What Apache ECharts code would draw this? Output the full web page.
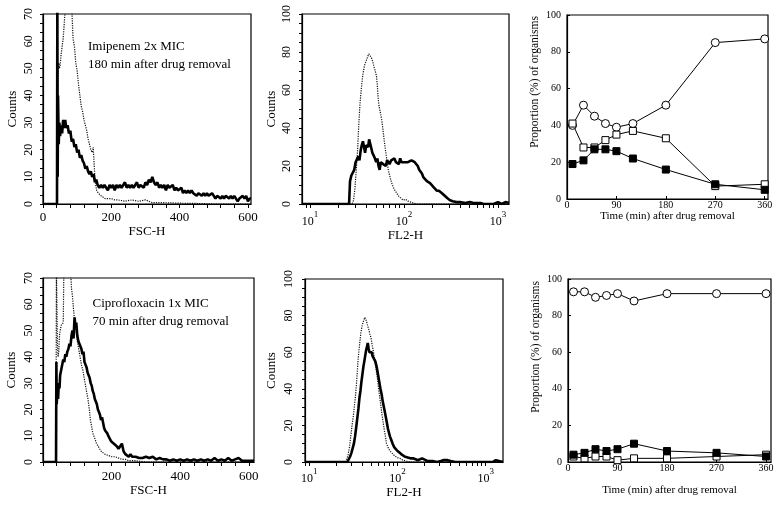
<!DOCTYPE html>
<html>
<head>
<meta charset="utf-8">
<script src="https://cdn.jsdelivr.net/npm/echarts@6/dist/echarts.min.js"></script>
<style>
html,body{margin:0;padding:0;background:#fff;}
#chart{width:780px;height:505px;}
</style>
</head>
<body>
<div id="chart"></div>
<script>
// ---------- Panel A: Imipenem 2x MIC, FSC-H histogram ----------
const imiFscSolidX = [0,41,42,43,44,46,48,50,53,56,59,62,65,68,72,76,80,84,88,92,96,100,104,108,112,116,120,124,128,132,136,140,144,148,152,156,160,165,170,175,180,185,190,195,200,205,210,215,220,225,230,235,240,245,250,255,260,265,270,275,280,285,290,295,300,305,310,315,320,325,330,335,340,345,350,355,360,365,370,375,380,385,390,395,400,405,410,415,420,425,430,435,440,445,450,455,460,465,470,475,480,485,490,495,500,505,510,515,520,525,530,535,540,545,550,555,560,565,570,575,580,585,590,595,600,605,609];
const imiFscSolidY = [0,0,75,10,40,22,30,25,29,26,31,28,31,28,29,26,27,23,24,21,22,19,20,17,18,16,15,13,14,12,11,12,10,11,8,9,7,6,7,6,7,6,5,7,6,7,5,7,6,7,6,6,8,6,7,6,7,6,7,8,6,7,7,6,8,7,9,8,10,8,7,8,6,7,6,7,5,7,6,6,7,5,6,5,5,6,4,5,4,5,4,5,4,4,3,4,4,3,4,3,4,3,3,4,3,2,3,3,2,3,2,3,3,2,3,2,3,2,1,2,2,3,2,3,1,2,2];
const imiFscDotX = [0,41,42,44,46,48,50,53,56,59,62,65,68,72,76,80,84,88,92,96,100,104,108,112,116,120,124,128,132,136,140,144,147,150,153,157,162,170,182,190,200,210,220,240,260,280,300,320,350,400,450,500,609];
const imiFscDotY = [0,0,30,45,52,50,51,55,58,61,66,72,75,74,72,76,73,61,58,52,49,44,40,36,34,31,29,27,24,22,20,19,21,14,8,5,4,3,2,2,2,1.5,1.5,1,1.5,1,1.5,0.5,0.5,0.3,0.2,0,0];

// ---------- Panel B: Imipenem 2x MIC, FL2-H histogram ----------
const imiFlSolidX = [8.2,26,26.6,27.5,28.5,29.5,30.5,31.5,32.5,33.5,34.5,35.5,36.5,37.5,38.5,39.5,40.5,41.5,42.5,43.5,44.5,46,47.5,49,50.5,52,53.5,55,56.5,58,60,62,64,66,68,70,73,76,79,82,85,88,91,94,97,100,105,110,115,120,125,130,136,140,145,150,155,161,168,175,182,189,197,205,213,223,235,248,262,275,290,309,330,360,394,450,500,550,600,650,700,800,900,1000,1050,1100,1200,1310];
const imiFlSolidY = [0,0,12,15,14,18,22,21,25,23,28,31,33,30,27,31,32,30,34,33,30,27,28,24,22,24,20,18,22,23,21,22,20,23,22,21,23,22,24,22,23,21,24,22,23,22,23,22,22,23,22,22,22,20,18,17,16,14,13,12,12,11,10,9,8,7,7,6,5,4,3,2,1.5,1,1,0.5,1,0.5,0.5,0.5,0,0,0,1,1,0,1,0.5];
const imiFlDotX = [8.2,28,29,30,31,32,33,34,35,36,37,38,40,41,42,43,44,45,46,47,48,49,50,51,52,53,54,55,56,58,60,62,64,66,68,71,74,78,83,88,93,98,104,110,118,125,135,1310];
const imiFlDotY = [0,0,2,8,18,28,42,53,60,66,70,73,76,77,79,80,78,77,76,74,72,71,69,67,62,56,52,50,48,44,38,32,27,22,18,14,11,8,6,4,3,2,2.5,1.5,1,0.5,0,0];

// ---------- Panel C: Imipenem time course ----------
const timesMin = [10,30,50,70,90,120,180,270,360];
const imiOpenCircle = [40,51,45,41,39,41,51,85,87];
const imiOpenSquare = [41,28,28,32,35,37,33,7,8];
const imiFilledSquare = [19,21,27,27,26,22,16,8,5];

// ---------- Panel D: Ciprofloxacin 1x MIC, FSC-H histogram ----------
const ciproFscSolidX = [0,38,39,40,42,44,46,48,50,53,56,59,62,65,68,71,74,77,80,83,86,89,92,95,97,100,103,106,109,112,115,118,121,124,127,130,133,136,139,142,145,148,151,154,157,160,163,166,169,172,175,178,181,184,187,190,194,198,202,206,210,215,220,225,230,235,240,245,250,255,260,270,280,290,300,310,320,330,340,350,360,370,380,390,400,410,420,430,440,450,460,470,480,490,500,510,520,530,540,550,560,570,580,590,600,615];
const ciproFscSolidY = [0,0,38,22,28,24,30,28,33,35,37,39,38,41,40,42,43,45,44,48,50,47,55,51,53,48,46,45,44,43,41,42,38,37,36,34,33,32,30,29,27,26,24,23,22,20,19,18,16,17,15,13,12,12,11,10,10,8,8,7,7,6,5,6,7,4,3,3,2,3,2,2,1.5,1.5,2,1.5,2,1,1.5,1,1,0.5,1,0.5,1,0.5,1,0.5,1,0.5,1,0.5,1,0.5,1.5,0.5,1,0.5,1.5,0.5,1,1.5,0.5,0.5,0.5,0.5];
const ciproFscDotX = [0,38,39,42,44,46,48,50,53,56,59,61,64,68,72,76,80,83,86,89,92,96,100,104,108,112,116,120,124,128,131,134,136,138,141,145,151,156,161,165,170,180,190,200,210,220,230,240,250,270,300,615];
const ciproFscDotY = [0,0,75,45,40,42,48,50,52,52,53,75,75,72,75,78,74,66,63,58,54,50,46,43,40,37,35,32,29,26,24,21,19,16,14,11,9,7,6,5,4,3,2.5,2,2,1.5,1,1,0.5,0.5,0,0];

// ---------- Panel E: Ciprofloxacin 1x MIC, FL2-H histogram ----------
const ciproFlSolidX = [8.93,27,28,29,30,31,32,33,34,35,36,37,38,39,40,41,42,43,44,45,46,47,48,49,50,51,52,54,56,58,60,62,64,66,68,70,72,74,76,78,80,82,85,88,92,96,100,106,112,120,130,140,150,160,170,180,190,200,220,250,280,310,330,345,370,400,450,1000,1200,1250,1300,1350,1570];
const ciproFlSolidY = [0,0,1,3,5,6,10,14,19,24,29,35,39,44,48,52,55,58,61,63,65,62,60,61,59,60,58,58,55,52,48,44,40,37,33,30,27,24,21,18,16,14,12,10,8,7,6,5,4,3,2.5,2,2,1.5,1,1.5,2,1,0.5,0.5,0,0.5,1,0.5,1,0.5,0,0,0,1,1,0.5,0];
const ciproFlDotX = [8.93,26,26.5,27.5,28.5,29.5,30.5,31.5,32.5,33.5,34.5,35.5,36.5,37.5,38.5,39.5,40.5,41.5,42.5,43.5,44.5,45.5,46.5,47.5,48.5,50,51.5,53,55,57,59,61,63,65,67,69,71,73,75,78,82,86,92,98,106,115,126,140,1570];
const ciproFlDotY = [0,0,1,4,8,14,20,25,31,37,45,54,61,66,71,74,76,77,79,78,77,75,74,72,70,68,64,61,56,51,46,40,35,30,25,21,17,14,10,8,6,5,3.5,2.5,2,1,0.5,0,0];

// ---------- Panel F: Ciprofloxacin time course ----------
const ciproOpenCircle = [93,93,90,91,92,88,92,92,92];
const ciproOpenSquare = [3,2,3,3,1,2,2,3,4];
const ciproFilledSquare = [4,5,7,6,7,10,6,5,3];

// ---------- tick / label values ----------
const fscLabelsTop = [0,200,400,600];
const fscLabelsBottom = [200,400,600];
const fscTickVals = [0,40,80,120,160,200,240,280,320,360,400,440,480,520,560,600];
const logLabelVals = [10,100,1000];
const logTickVals = [9,10,20,30,40,50,60,70,80,90,100,200,300,400,500,600,700,800,900,1000];
const timeLabels = [0,90,180,270,360];

const FONT = '"Liberation Serif", "Times New Roman", serif';
const BLACK = '#000';

function zip(xs, ys){ return xs.map((x,i)=>[x, ys[i]]); }

const count70Ticks = []; for (let i=0;i<=21;i++) count70Ticks.push(i*10/3);
const count100Ticks = []; for (let i=0;i<=20;i++) count100Ticks.push(i*5);

function baseLine(){ return {show:true, onZero:false, lineStyle:{color:BLACK, width:1.2}}; }

const grids = [
  {left:43, top:14, width:208, height:190},
  {left:302, top:14, width:207, height:190},
  {left:567, top:15, width:201, height:184},
  {left:43, top:278, width:211, height:184},
  {left:305, top:279, width:198, height:183},
  {left:568, top:279, width:203, height:183}
].map(g => Object.assign({show:true, borderColor:BLACK, borderWidth:1.2, backgroundColor:'transparent', containLabel:false}, g));

function fscX(grid, max, labels, nameGap, labelMargin){
  return {gridIndex:grid, type:'value', min:0, max:max, interval:200,
    axisLine:baseLine(), splitLine:{show:false},
    axisTick:{show:true, length:4, customValues:fscTickVals, lineStyle:{color:BLACK, width:1}},
    axisLabel:{color:BLACK, fontFamily:FONT, fontSize:13, margin:labelMargin, customValues:labels},
    name:'FSC-H', nameLocation:'middle', nameGap:nameGap,
    nameTextStyle:{color:BLACK, fontFamily:FONT, fontSize:13}};
}
function logX(grid, min, max, nameGap, labelMargin){
  return {gridIndex:grid, type:'log', logBase:10, min:min, max:max,
    axisLine:baseLine(), splitLine:{show:false}, minorTick:{show:false},
    axisTick:{show:true, length:4, customValues:logTickVals, lineStyle:{color:BLACK, width:1}},
    axisLabel:{color:BLACK, margin:labelMargin, customValues:logLabelVals,
      formatter: v => '{b|10}{s|' + Math.round(Math.log10(v)) + '}',
      rich:{ b:{fontFamily:FONT, fontSize:12, color:BLACK, lineHeight:18, verticalAlign:'bottom'},
             s:{fontFamily:FONT, fontSize:9, color:BLACK, lineHeight:9, verticalAlign:'top'} }},
    name:'FL2-H', nameLocation:'middle', nameGap:nameGap,
    nameTextStyle:{color:BLACK, fontFamily:FONT, fontSize:13}};
}
function timeX(grid, max, labelMargin, nameGap){
  return {gridIndex:grid, type:'value', min:0, max:max, interval:90,
    axisLine:baseLine(), splitLine:{show:false},
    axisTick:{show:true, length:3, inside:true, customValues:timeLabels, lineStyle:{color:BLACK}},
    axisLabel:{color:BLACK, fontFamily:FONT, fontSize:10, margin:labelMargin, customValues:timeLabels},
    name:'Time (min) after drug removal', nameLocation:'middle', nameGap:nameGap,
    nameTextStyle:{color:BLACK, fontFamily:FONT, fontSize:11}};
}
function countY(grid, max, interval, ticks, labelMargin, nameGap){
  return {gridIndex:grid, type:'value', min:0, max:max, interval:interval,
    axisLine:baseLine(), splitLine:{show:false},
    axisTick:{show:true, length:3, customValues:ticks, lineStyle:{color:BLACK}},
    axisLabel:{color:BLACK, fontFamily:FONT, fontSize:12, rotate:90, margin:labelMargin},
    name:'Counts', nameLocation:'middle', nameGap:nameGap, nameRotate:90,
    nameTextStyle:{color:BLACK, fontFamily:FONT, fontSize:13}};
}
function propY(grid){
  return {gridIndex:grid, type:'value', min:0, max:100, interval:20,
    axisLine:baseLine(), splitLine:{show:false},
    axisTick:{show:true, length:3, inside:true, lineStyle:{color:BLACK}},
    axisLabel:{color:BLACK, fontFamily:FONT, fontSize:10, margin:6}};
}

function histLine(xi, yi, xs, ys, solid){
  return {type:'line', xAxisIndex:xi, yAxisIndex:yi, data:zip(xs, ys), showSymbol:false, symbol:'none',
    clip:true, z: solid ? 4 : 3,
    lineStyle: solid ? {color:'#000', width:2.6} : {color:'#111', width:1.2, type:'dotted'}};
}
function timeLine(xi, yi, ys, shape, filled){
  return {type:'line', xAxisIndex:xi, yAxisIndex:yi, data:zip(timesMin, ys),
    symbol:shape, symbolSize: shape==='circle' ? 8 : 7, showSymbol:true, showAllSymbol:true,
    lineStyle:{color:'#000', width:1},
    itemStyle:{color: filled ? '#000' : '#fff', borderColor:'#000', borderWidth:1}, z:5};
}

function txt(x, y, s, size, rot){
  return {type:'text', x:x, y:y, rotation: rot || 0, silent:true, z:100,
    style:{text:s, fontFamily:FONT, fontSize:size, fill:BLACK,
      align: rot ? 'center' : 'left', verticalAlign:'middle',
      textAlign: rot ? 'center' : 'left', textVerticalAlign:'middle'}};
}

const option = {
  animation:false,
  backgroundColor:'#fff',
  grid: grids,
  xAxis: [
    fscX(0, 609, fscLabelsTop, 19, 7),
    logX(1, 8.2, 1310, 23, 6),
    timeX(2, 366, 1, 9),
    fscX(3, 615, fscLabelsBottom, 21, 8),
    logX(4, 8.93, 1570, 20, 5),
    timeX(5, 369, 1, 23)
  ],
  yAxis: [
    countY(0, 70, 10, count70Ticks, 8, 24),
    countY(1, 100, 20, count100Ticks, 9, 24),
    propY(2),
    countY(3, 70, 10, count70Ticks, 8, 25),
    countY(4, 100, 20, count100Ticks, 10, 27),
    propY(5)
  ],
  series: [
    histLine(0,0, imiFscDotX, imiFscDotY, false),
    histLine(0,0, imiFscSolidX, imiFscSolidY, true),
    histLine(1,1, imiFlDotX, imiFlDotY, false),
    histLine(1,1, imiFlSolidX, imiFlSolidY, true),
    timeLine(2,2, imiOpenCircle, 'circle', false),
    timeLine(2,2, imiOpenSquare, 'rect', false),
    timeLine(2,2, imiFilledSquare, 'rect', true),
    histLine(3,3, ciproFscDotX, ciproFscDotY, false),
    histLine(3,3, ciproFscSolidX, ciproFscSolidY, true),
    histLine(4,4, ciproFlDotX, ciproFlDotY, false),
    histLine(4,4, ciproFlSolidX, ciproFlSolidY, true),
    timeLine(5,5, ciproOpenCircle, 'circle', false),
    timeLine(5,5, ciproOpenSquare, 'rect', false),
    timeLine(5,5, ciproFilledSquare, 'rect', true)
  ],
  graphic: [
    txt(88, 46.5, 'Imipenem 2x MIC', 13),
    txt(88, 64.5, '180 min after drug removal', 13),
    txt(92.5, 303.5, 'Ciprofloxacin 1x MIC', 13),
    txt(92.5, 321.5, '70 min after drug removal', 13),
    txt(535, 82, 'Proportion (%) of organisms', 11.5, Math.PI/2),
    txt(536, 347, 'Proportion (%) of organisms', 11.5, Math.PI/2)
  ]
};

const chart = echarts.init(document.getElementById('chart'), null, {renderer:'canvas'});
chart.setOption(option);
</script>
</body>
</html>
